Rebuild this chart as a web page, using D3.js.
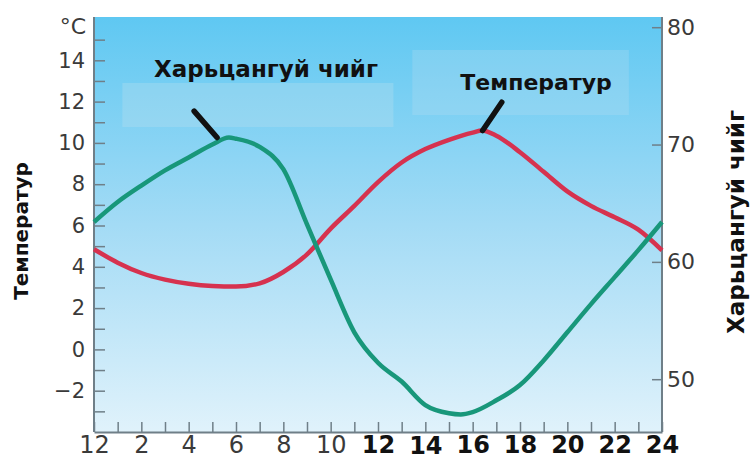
<!DOCTYPE html>
<html><head><meta charset="utf-8">
<script src="https://cdn.jsdelivr.net/npm/d3@7"></script>
<style>body{margin:0;background:#fff}svg{display:block}</style>
</head><body>
<svg id="c" width="750" height="460"></svg>
<script>
// ---- data ----
const tempHours = [0,1,2,3,4,5,6,7,8,9,10,11,12,13,14,15,16,16.4,17,18,19,20,21,22,23,24];
const temperature = [4.85,4.2,3.7,3.38,3.18,3.07,3.04,3.2,3.75,4.6,5.85,6.95,8.1,9.05,9.7,10.15,10.5,10.6,10.35,9.55,8.6,7.65,6.95,6.4,5.8,4.8];
const humHours = [0,1,2,3,4,5,5.7,6,7,8,9,10,11,12,13,14,15,15.5,16,17,18,19,20,21,22,23,24];
const humidity = [63.4,65.1,66.5,67.8,68.9,70.0,70.6,70.5,69.8,67.9,63.2,58.5,54.0,51.4,49.8,47.8,47.1,47.0,47.2,48.2,49.5,51.6,54.0,56.4,58.7,61.0,63.4];
const xTickHours = [0,2,4,6,8,10,12,14,16,18,20,22,24];
const xTickLabels = ["12","2","4","6","8","10","12","14","16","18","20","22","24"];
const leftTickValues = [-2,0,2,4,6,8,10,12,14];
const rightTickValues = [50,60,70,80];
const leftTitle = "Температур";
const rightTitle = "Харьцангуй чийг";
const humLabel = "Харьцангуй чийг";
const tempLabel = "Температур";

// ---- layout ----
const L = 94, R = 662, T = 17, B = 432;
const svg = d3.select("#c");
const x = d3.scaleLinear().domain([0,24]).range([L,R]);
const yL = d3.scaleLinear().domain([-4,16]).range([B,T+2]);
const yR = d3.scaleLinear().domain([45.5,80.7]).range([B,T+2]);

const defs = svg.append("defs");
const g = defs.append("linearGradient").attr("id","bg").attr("x1",0).attr("y1",0).attr("x2",0).attr("y2",1);
g.append("stop").attr("offset","0%").attr("stop-color","#5fc8f2");
g.append("stop").attr("offset","50%").attr("stop-color","#a3dbf5");
g.append("stop").attr("offset","100%").attr("stop-color","#e0f2fb");

svg.append("rect").attr("x",L).attr("y",T).attr("width",R-L).attr("height",B-T).attr("fill","url(#bg)");

// label boxes
svg.append("rect").attr("x",x(1.2)).attr("y",83).attr("width",x(12.65)-x(1.2)).attr("height",44)
  .attr("fill","#bfe0ee").attr("opacity",0.3);
svg.append("rect").attr("x",x(13.45)).attr("y",50).attr("width",x(22.6)-x(13.45)).attr("height",65)
  .attr("fill","#bfe0ee").attr("opacity",0.25);

const axColor = "#6f7f88";
const lblColor = "#3a3a3a";

// left axis
const axL = svg.append("g").attr("transform",`translate(${L},0)`)
  .call(d3.axisLeft(yL).tickValues(d3.range(-3,16)).tickSize(-11).tickSizeOuter(0).tickPadding(9)
    .tickFormat(d => leftTickValues.includes(d) ? (d<0 ? "\u2212"+Math.abs(d) : d) : ""));
// right axis
const axR = svg.append("g").attr("transform",`translate(${R},0)`)
  .call(d3.axisRight(yR).tickValues(rightTickValues).tickSize(-10).tickSizeOuter(0).tickPadding(5));
// bottom axis
const axB = svg.append("g").attr("transform",`translate(0,${B})`)
  .call(d3.axisBottom(x).tickValues(d3.range(0,25)).tickSize(-10).tickSizeOuter(0).tickPadding(4)
    .tickFormat(d => { const i = xTickHours.indexOf(d); return i>=0 ? xTickLabels[i] : ""; }));

[axL,axR,axB].forEach(a => {
  a.select(".domain").attr("stroke",axColor).attr("stroke-width",2);
  a.selectAll(".tick line").attr("stroke",axColor).attr("stroke-width",1.5);
  a.selectAll("text").attr("font-family","DejaVu Sans").attr("fill",lblColor);
});
axL.select(".domain").attr("d",`M0,${T}V${B}`);
axR.select(".domain").attr("d",`M0,${T}V${B}`);
axL.selectAll("text").attr("font-size",21);
axR.selectAll("text").attr("font-size",22);
axB.selectAll("text").attr("font-size",24);
axB.selectAll(".tick text").each(function(d){
  const i = xTickHours.indexOf(d);
  if (i >= 6) d3.select(this).attr("font-weight","bold").attr("fill","#111");
  if (d === 14) d3.select(this).attr("dy","0.74em");
});

// °C
svg.append("text").attr("x",86).attr("y",34).attr("text-anchor","end")
  .attr("font-family","DejaVu Sans").attr("font-size",22).attr("fill",lblColor).text("°C");

// lines
const lineT = d3.line().x((d,i)=>x(tempHours[i])).y(d=>yL(d)).curve(d3.curveMonotoneX);
const lineH = d3.line().x((d,i)=>x(humHours[i])).y(d=>yR(d)).curve(d3.curveMonotoneX);
svg.append("path").attr("d",lineT(temperature)).attr("fill","none").attr("stroke","#d6324f").attr("stroke-width",4.5).attr("stroke-linejoin","round");
svg.append("path").attr("d",lineH(humidity)).attr("fill","none").attr("stroke","#18977a").attr("stroke-width",4.5).attr("stroke-linejoin","round");

// pointers
svg.append("line").attr("x1",x(4.23)).attr("y1",yR(72.85)).attr("x2",x(5.2)).attr("y2",yR(70.6))
  .attr("stroke","#111").attr("stroke-width",5.5).attr("stroke-linecap","round");
svg.append("line").attr("x1",x(17.23)).attr("y1",yL(11.97)).attr("x2",x(16.42)).attr("y2",yL(10.6))
  .attr("stroke","#111").attr("stroke-width",5.5).attr("stroke-linecap","round");

// in-chart labels
svg.append("text").attr("x",266).attr("y",77).attr("text-anchor","middle")
  .attr("font-family","DejaVu Sans").attr("font-weight","bold").attr("font-size",23).attr("fill","#111").text(humLabel);
svg.append("text").attr("x",536).attr("y",90).attr("text-anchor","middle")
  .attr("font-family","DejaVu Sans").attr("font-weight","bold").attr("font-size",22).attr("fill","#111").text(tempLabel);

// axis titles
svg.append("text").attr("transform","translate(28,231) rotate(-90)").attr("text-anchor","middle")
  .attr("font-family","DejaVu Sans").attr("font-weight","bold").attr("font-size",20).attr("fill","#111").text(leftTitle);
svg.append("text").attr("transform","translate(744,222) rotate(-90)").attr("text-anchor","middle")
  .attr("font-family","DejaVu Sans").attr("font-weight","bold").attr("font-size",23).attr("fill","#111").text(rightTitle);
</script>
</body></html>
